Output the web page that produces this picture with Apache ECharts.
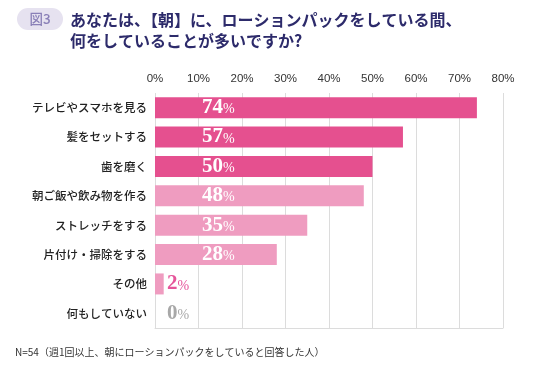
<!DOCTYPE html>
<html><head><meta charset="utf-8">
<script src="https://cdn.jsdelivr.net/npm/echarts@6/dist/echarts.min.js"></script>
<style>html,body{margin:0;padding:0;background:#fff}#c{width:536px;height:369px}</style>
</head><body><div id="c"></div>
<script>
const categories = ['テレビやスマホを見る','髪をセットする','歯を磨く','朝ご飯や飲み物を作る','ストレッチをする','片付け・掃除をする','その他','何もしていない'];
const values = [74, 57, 50, 48, 35, 28, 2, 0];
const barColors = ['#e5508f','#e5508f','#e5508f','#ef9cc0','#ef9cc0','#ef9cc0','#ef9cc0','#ef9cc0'];
const xTicks = [0,10,20,30,40,50,60,70,80];
const titleLines = ['あなたは、【朝】に、ローションパックをしている間、','何をしていることが多いですか?'];
const footnote = 'N=54（週1回以上、朝にローションパックをしていると回答した人）';

const JP = '"Noto Sans CJK JP", sans-serif';
const SERIF = '"Liberation Serif", "DejaVu Serif", serif';

const data = values.map((v, i) => {
  const small = v < 5;
  const col = small ? (v === 0 ? '#a8a8a8' : '#e5559a') : '#fff';
  return {
    value: v,
    itemStyle: { color: barColors[i] },
    label: {
      show: true,
      position: small ? [12, '50%'] : [47, '50%'],
      align: 'left',
      verticalAlign: 'middle',
      formatter: '{n|' + v + '}{p|%}',
      rich: {
        n: { fontFamily: SERIF, fontSize: 21, fontWeight: 'bold', color: col },
        p: { fontFamily: SERIF, fontSize: 14, color: col, padding: [4, 0, 0, 0] }
      }
    }
  };
});

const chart = echarts.init(document.getElementById('c'), null, { renderer: 'canvas' });
chart.setOption({
  animation: false,
  backgroundColor: '#fff',
  grid: { left: 155, right: 33, top: 93, bottom: 41, containLabel: false },
  xAxis: [{
    type: 'value', position: 'top', min: 0, max: xTicks[xTicks.length - 1], interval: 10,
    axisLine: { show: false }, axisTick: { show: false },
    axisLabel: { formatter: '{value}%', fontFamily: '"Liberation Sans", Arial, sans-serif', fontSize: 11.5, color: '#333', margin: 8 },
    splitLine: { show: true, lineStyle: { color: '#dcdcdc', width: 1 } }
  }, {
    type: 'value', position: 'bottom', min: 0, max: 80, interval: 10,
    axisLine: { show: true, lineStyle: { color: '#dcdcdc', width: 1 } },
    axisTick: { show: false }, axisLabel: { show: false }, splitLine: { show: false }
  }],
  yAxis: {
    type: 'category', data: categories, inverse: true,
    axisLine: { show: false }, axisTick: { show: false },
    axisLabel: { fontFamily: JP, fontSize: 11.5, fontWeight: 500, color: '#222', margin: 8 }
  },
  series: [{
    type: 'bar', data: data, barWidth: 21, xAxisIndex: 0
  }],
  graphic: [
    { type: 'rect', shape: { x: 17, y: 8, width: 46, height: 22, r: 11 }, style: { fill: '#e6e2f0' } },
    { type: 'text', x: 40, y: 19, style: { text: '図3', fontFamily: JP, fontSize: 13.5, fontWeight: 500, fill: '#8a80b8', align: 'center', verticalAlign: 'middle' } },
    { type: 'text', x: 70, y: 20, style: { text: titleLines[0], fontFamily: JP, fontSize: 16, fontWeight: 'bold', fill: '#2d2b6b', verticalAlign: 'middle' } },
    { type: 'text', x: 70, y: 41, style: { text: titleLines[1], fontFamily: JP, fontSize: 16, fontWeight: 'bold', fill: '#2d2b6b', verticalAlign: 'middle' } },
    { type: 'text', x: 15, y: 352, style: { text: footnote, fontFamily: JP, fontSize: 10, fill: '#333', verticalAlign: 'middle' } }
  ]
});
</script></body></html>
